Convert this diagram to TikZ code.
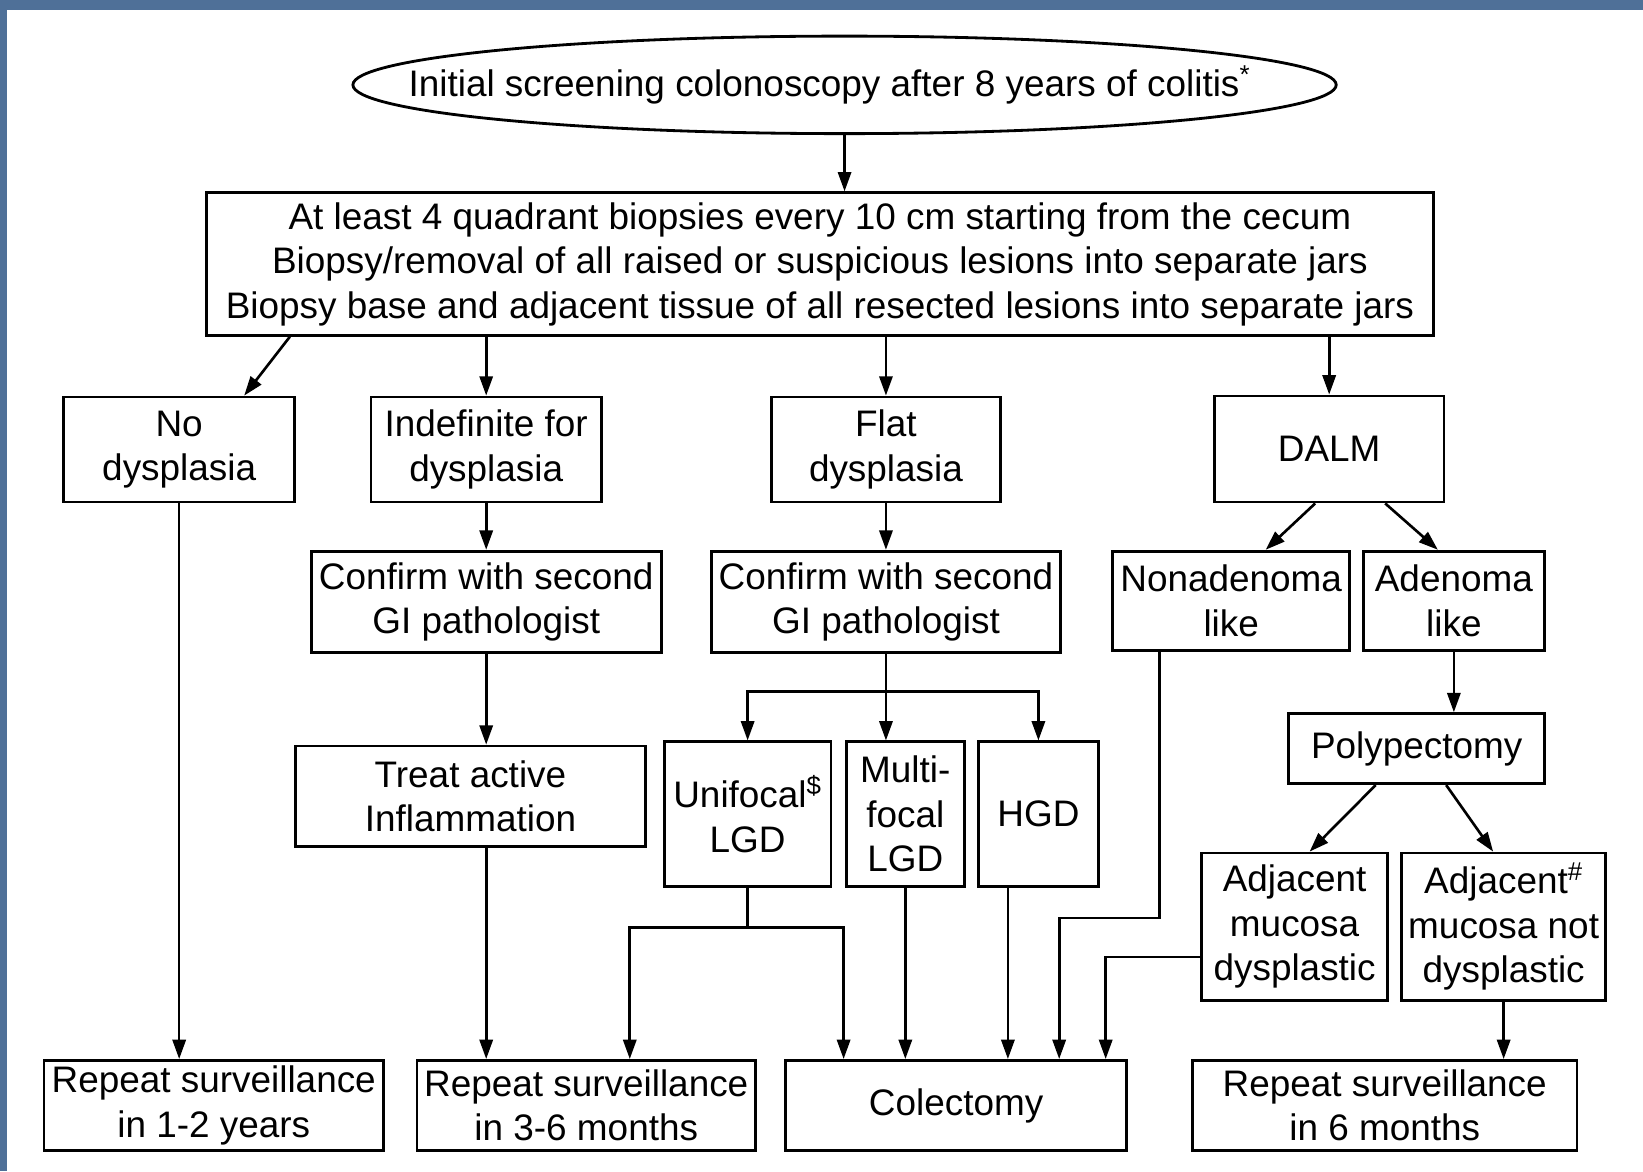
\documentclass[tikz,border=0pt]{standalone}
\usepackage{fontspec}
\setmainfont{Liberation Sans}
\usetikzlibrary{arrows.meta,shapes.geometric}
\definecolor{slideblue}{RGB}{79,112,152}
\tikzset{
  box/.style={draw, line width=1.6pt, align=center, inner sep=0pt},
  arr/.style={line width=1.5pt, -{Triangle[length=11pt,width=7.5pt]}},
  link/.style={line width=1.5pt}
}

\begin{document}
\begin{tikzpicture}[x=0.020956cm, y=-0.020956cm, font=\fontsize{21}{25.3}\selectfont]

\fill[slideblue] (0,0) rectangle (1568,1118);
\fill[white] (7,10) rectangle (1568,1118);
\useasboundingbox (0,0) rectangle (1568,1118);

\node[ellipse, draw, line width=1.6pt, inner sep=0pt, minimum width=19.66cm, minimum height=1.95cm,
  label={[xshift=-0.3cm]center:Initial screening colonoscopy after 8 years of colitis\textsuperscript{*}}] (init) at (806,81) {};
\node[box, minimum width=24.54cm, minimum height=2.85cm] (biopsy) at (782.5,252) {At least 4 quadrant biopsies every 10 cm starting from the cecum\\Biopsy/removal of all raised or suspicious lesions into separate jars\\Biopsy base and adjacent tissue of all resected lesions into separate jars};

\node[box, minimum width=4.61cm, minimum height=2.1cm] (nodys) at (171,429) {No\\dysplasia};
\node[box, minimum width=4.61cm, minimum height=2.1cm] (indef) at (464,429) {Indefinite for\\dysplasia};
\node[box, minimum width=4.59cm, minimum height=2.1cm] (flat) at (845.5,429) {Flat\\dysplasia};
\node[box, minimum width=4.59cm, minimum height=2.12cm] (dalm) at (1268.5,428.5) {DALM};

\node[box, minimum width=7cm, minimum height=2.03cm] (confirmA) at (464,574.5) {Confirm with second\\GI pathologist};
\node[box, minimum width=6.98cm, minimum height=2.03cm] (confirmB) at (845.5,574.5) {Confirm with second\\GI pathologist};
\node[box, minimum width=4.74cm, minimum height=1.99cm] (nonaden) at (1175,573.5) {Nonadenoma\\like};
\node[box, minimum width=3.63cm, minimum height=1.99cm] (aden) at (1387.5,573.5) {Adenoma\\like};

\node[box, minimum width=7cm, minimum height=2.01cm] (treat) at (449,760) {Treat active\\Inflammation};
\node[box, minimum width=3.33cm, minimum height=2.89cm] (uni) at (713.5,777) {Unifocal\textsuperscript{\$}\\LGD};
\node[box, minimum width=2.35cm, minimum height=2.89cm] (multi) at (864,777) {Multi-\\focal\\LGD};
\node[box, minimum width=2.39cm, minimum height=2.89cm] (hgd) at (991,777) {HGD};
\node[box, minimum width=5.11cm, minimum height=1.4cm] (polyp) at (1352,714.5) {Polypectomy};

\node[box, minimum width=3.71cm, minimum height=2.95cm] (adjdys) at (1235.5,884.5) {Adjacent\\mucosa\\dysplastic};
\node[box, minimum width=4.07cm, minimum height=2.95cm] (adjnot) at (1435,884.5) {Adjacent\textsuperscript{\#}\\mucosa not\\dysplastic};

\node[box, minimum width=6.79cm, minimum height=1.8cm] (rep12) at (204,1055) {Repeat surveillance\\in 1-2 years};
\node[box, minimum width=6.77cm, minimum height=1.8cm] (rep36) at (559.5,1055) {Repeat surveillance\\in 3-6 months};
\node[box, minimum width=6.81cm, minimum height=1.8cm] (colect) at (912.5,1055) {Colectomy};
\node[box, minimum width=7.69cm, minimum height=1.8cm] (rep6) at (1321.5,1055) {Repeat surveillance\\in 6 months};

\draw[arr] (init.south) -- (init.south |- biopsy.north);
\draw[arr] ([xshift=1.7cm]biopsy.south west) -- ([xshift=1.3cm]nodys.north);
\draw[arr] (biopsy.south -| indef.north) -- (indef.north);
\draw[arr] (biopsy.south -| flat.north) -- (flat.north);
\draw[arr] (biopsy.south -| dalm.north) -- (dalm.north);

\draw[arr] (indef.south) -- (confirmA.north);
\draw[arr] (flat.south) -- (confirmB.north);
\draw[arr] ([xshift=-0.28cm]dalm.south) -- ([xshift=0.69cm]nonaden.north);
\draw[arr] ([xshift=1.12cm]dalm.south) -- ([xshift=-0.32cm]aden.north);

\draw[arr] (confirmA.south) -- (confirmA.south |- treat.north);
\coordinate (split) at (845.5,660);
\draw[link] (confirmB.south) -- (split);
\draw[arr] (split) -| (uni.north);
\draw[arr] (split) -- (split |- multi.north);
\draw[arr] (split) -| (hgd.north);
\draw[arr] (aden.south) -- (aden.south |- polyp.north);
\draw[arr] ([xshift=-0.82cm]polyp.south) -- ([xshift=0.3cm]adjdys.north);
\draw[arr] ([xshift=0.59cm]polyp.south) -- ([xshift=-0.21cm]adjnot.north);

\draw[arr] (nodys.south) -- (nodys.south |- rep12.north);
\draw[arr] (treat.south -| confirmA.south) -- (confirmA.south |- rep36.north);
\coordinate (unibar) at (uni.south |- 0,885);
\draw[link] (uni.south) -- (unibar);
\draw[arr] (unibar) -| ([xshift=0.87cm]rep36.north);
\draw[arr] (unibar) -| ([xshift=-2.25cm]colect.north);
\draw[arr] (multi.south) -- (multi.south |- colect.north);
\coordinate (hgdout) at ([xshift=-0.61cm]hgd.south);
\draw[arr] (hgdout) -- (hgdout |- colect.north);
\coordinate (nonout) at ([xshift=-1.43cm]nonaden.south);
\coordinate (colin) at ([xshift=2.06cm]colect.north);
\draw[arr] (nonout) |- (colin |- 0,876) -- (colin);
\draw[arr] ([yshift=-0.6cm]adjdys.west) -| ([xshift=2.99cm]colect.north);
\draw[arr] (adjnot.south) -- (adjnot.south |- rep6.north);

\end{tikzpicture}
\end{document}
